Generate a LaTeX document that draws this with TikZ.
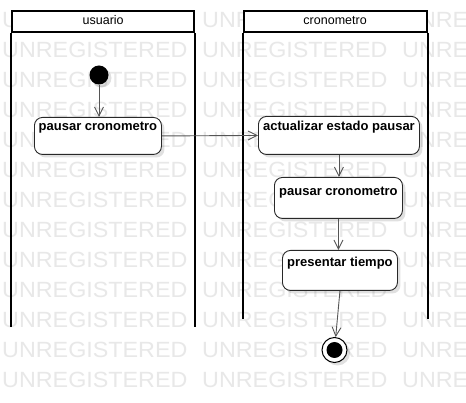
\documentclass[tikz,border=0pt]{standalone}
\usepackage{fontspec}
\setmainfont{Liberation Sans}
\usetikzlibrary{arrows.meta, positioning, shadows}
\definecolor{marcagris}{RGB}{232,232,232}
\definecolor{bordegris}{RGB}{40,40,40}
\definecolor{flechagris}{RGB}{85,85,85}
\tikzset{
  carril/.style={rectangle, draw=black, fill=white, line width=2pt,
    inner sep=0pt, anchor=north west, text height=9pt, text depth=3pt,
    font=\fontsize{12.5}{14}\selectfont},
  lineacarril/.style={draw=black, line width=2pt},
  accion/.style={rectangle, draw=bordegris, fill=white, rounded corners=8pt,
    line width=0.9pt, inner sep=0pt, anchor=north west,
    font=\fontsize{13}{15}\selectfont\bfseries,
    drop shadow={shadow xshift=3pt, shadow yshift=-3pt, fill=black, opacity=0.12}},
  inicio/.style={circle, fill=black, minimum size=19pt, inner sep=0pt,
    drop shadow={shadow xshift=3pt, shadow yshift=-3pt, fill=black, opacity=0.12}},
  fin/.style={circle, draw=black, fill=white, line width=1pt,
    minimum size=25pt, inner sep=0pt,
    drop shadow={shadow xshift=3pt, shadow yshift=-3pt, fill=black, opacity=0.12},
    path picture={\fill[black] (path picture bounding box.center) circle (8pt);}},
  flecha/.style={-{Straight Barb[length=9pt,width=9pt]}, draw=flechagris, line width=0.9pt},
  marca/.style={text=marcagris, inner sep=0pt, anchor=base west,
    font=\fontsize{22}{24}\selectfont}
}
\begin{document}
\begin{tikzpicture}[x=1pt, y=-1pt]
  \useasboundingbox[fill=white] (0,0) rectangle (466,403);
  % watermark
  \begin{scope}
    \clip (0,0) rectangle (466,403);
    \foreach \fila in {0,...,12}
      \foreach \col in {0,1,2}
        \node[marca] (m\fila-\col) at (2+200*\col, 28+30*\fila)
          {\scalebox{1.06}[1]{UNREGISTERED}};
  \end{scope}
  % swimlanes
  \node[carril, minimum width=182.3pt, minimum height=20.5pt] (usuario) at (11,10.5) {usuario};
  \draw[lineacarril] (usuario.south west) -- ++(0,294);
  \draw[lineacarril] (usuario.south east) -- ++(0,294);
  \node[carril, minimum width=182.8pt, minimum height=20.5pt] (cronometro) at (242.7,10.5) {cronometro};
  \draw[lineacarril] (cronometro.south west) -- ++(0,286);
  \draw[lineacarril] (cronometro.south east) -- ++(0,286);
  % activity nodes
  \node[inicio] (ini) at (99,75) {};
  \node[accion, minimum width=127pt, text height=13pt, text depth=24pt] (pausarU) at (34,117) {pausar cronometro};
  \node[accion, minimum width=161pt, text height=14pt, text depth=24pt] (actualizar) at (258,116) {actualizar estado pausar};
  \node[accion, minimum width=128pt, text height=18pt, text depth=23pt] (pausarC) at (274,177) {pausar cronometro};
  \node[accion, minimum width=115pt, text height=16pt, text depth=24pt] (presentar) at (282,250) {presentar tiempo};
  \node[fin] (final) at (334.5,350) {};
  % transitions
  \draw[flecha] (ini) -- (ini |- pausarU.north);
  \draw[flecha] (pausarU.east) -- (actualizar.west);
  \draw[flecha] (actualizar.south) -- (actualizar.south |- pausarC.north);
  \draw[flecha] (pausarC.south) -- (pausarC.south |- presentar.north);
  \draw[flecha] (presentar.south) -- (final);
\end{tikzpicture}
\end{document}
